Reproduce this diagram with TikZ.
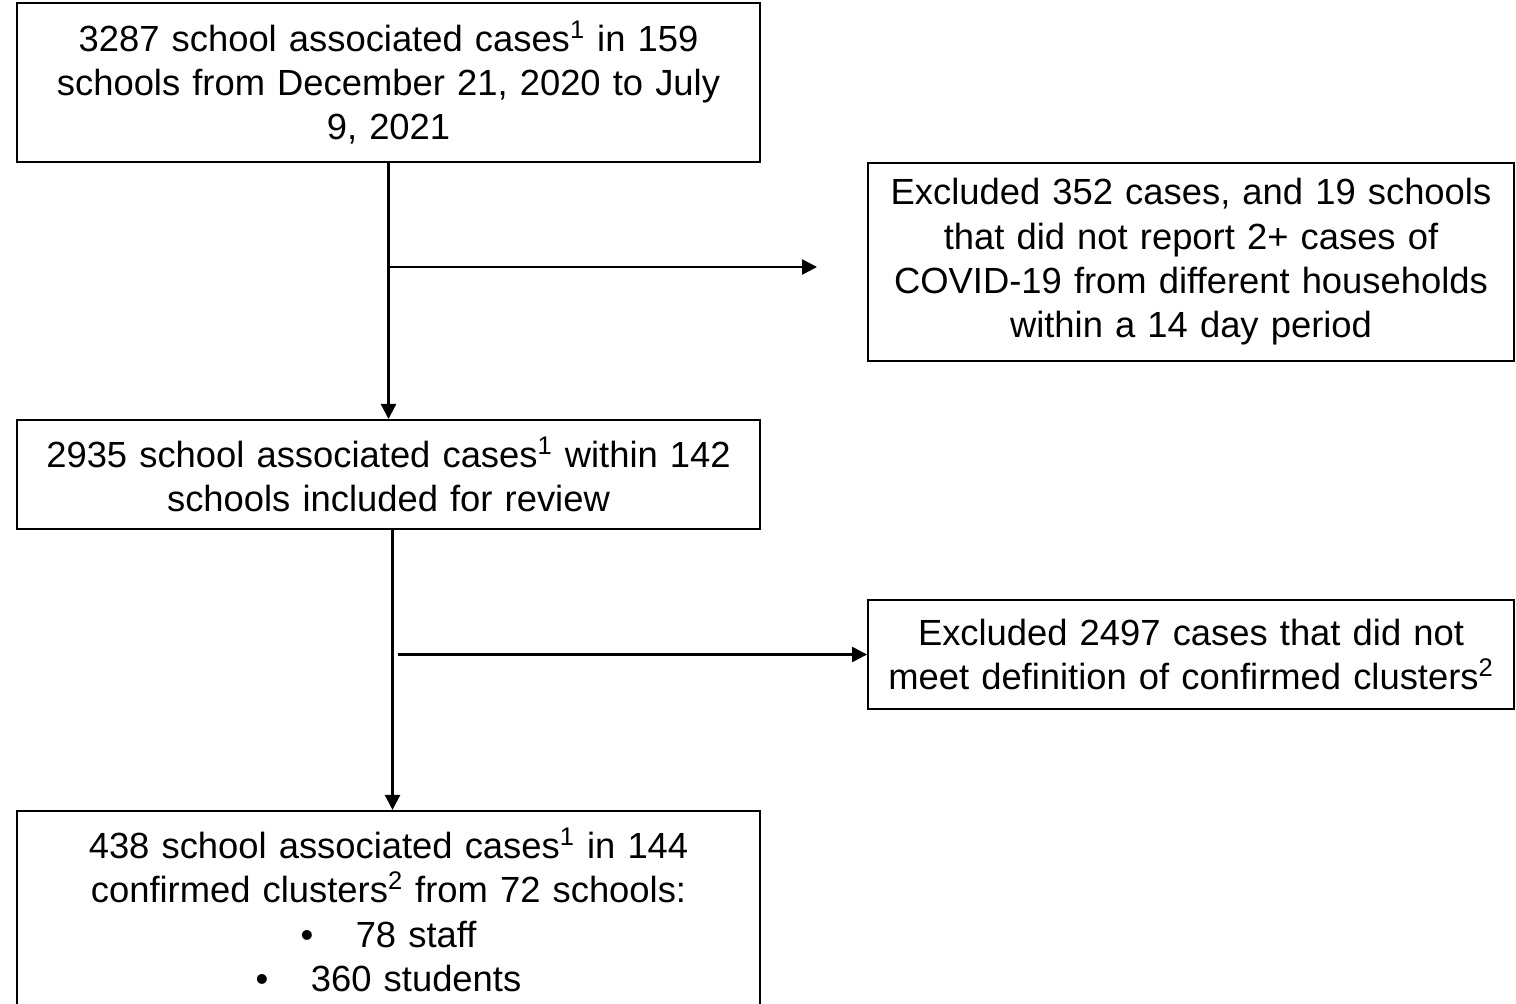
\documentclass[tikz,border=0pt]{standalone}
\usepackage{fontspec}
\setmainfont{Liberation Sans}
\usetikzlibrary{arrows.meta, positioning}

\begin{document}
\begin{tikzpicture}[
    node distance=5.12cm,
    font=\fontsize{20.7}{25.2}\selectfont,
    % box styles
    casebox/.style={rectangle, draw=black, line width=1.1pt, minimum width=14.86cm, text width=14.4cm, align=center, inner sep=0pt},
    exclbox/.style={rectangle, draw=black, line width=1.1pt, minimum width=12.92cm, text width=12.6cm, align=center, inner sep=0pt},
    flow/.style={-{Triangle[length=0.3cm, width=0.3cm]}, line width=1.4pt}
]
    \useasboundingbox (0,0) rectangle (30.32,-20.06);

    % --- main column ---
    \node (total) [casebox, minimum height=3.18cm] at (7.77,-1.65) {3287 school associated cases\textsuperscript{1} in 159\\ schools from December 21, 2020 to July\\ 9, 2021};
    \node (review) [casebox, minimum height=2.18cm, below=of total] {2935 school associated cases\textsuperscript{1} within 142\\ schools included for review};
    \node (clusters) [casebox, minimum height=3.96cm, below=5.6cm of review] {438 school associated cases\textsuperscript{1} in 144\\ confirmed clusters\textsuperscript{2} from 72 schools:\\ \textbullet\hspace{0.85cm}78 staff\\ \textbullet\hspace{0.85cm}360 students};

    % --- exclusions ---
    \node (excl1) [exclbox, minimum height=3.96cm] at (23.82,-5.24) {Excluded 352 cases, and 19 schools\\ that did not report 2+ cases of\\ COVID-19 from different households\\ within a 14 day period};
    \node (excl2) [exclbox, minimum height=2.18cm] at (23.82,-13.09) {Excluded 2497 cases that did not\\ meet definition of confirmed clusters\textsuperscript{2}};

    % --- branch points ---
    \coordinate (b1) at ([yshift=-0.1cm]total.south |- excl1.west);
    \coordinate (b2) at ([xshift=0.18cm]review.south |- excl2.west);

    % --- connectors ---
    \draw [flow] (total) -- (review);
    \draw [flow] ([xshift=0.08cm]review.south) -- ([xshift=0.08cm]clusters.north);
    \draw [flow, shorten >=1cm] (b1) -- (b1 -| excl1.west);
    \draw [flow] (b2) -- (b2 -| excl2.west);

\end{tikzpicture}
\end{document}
